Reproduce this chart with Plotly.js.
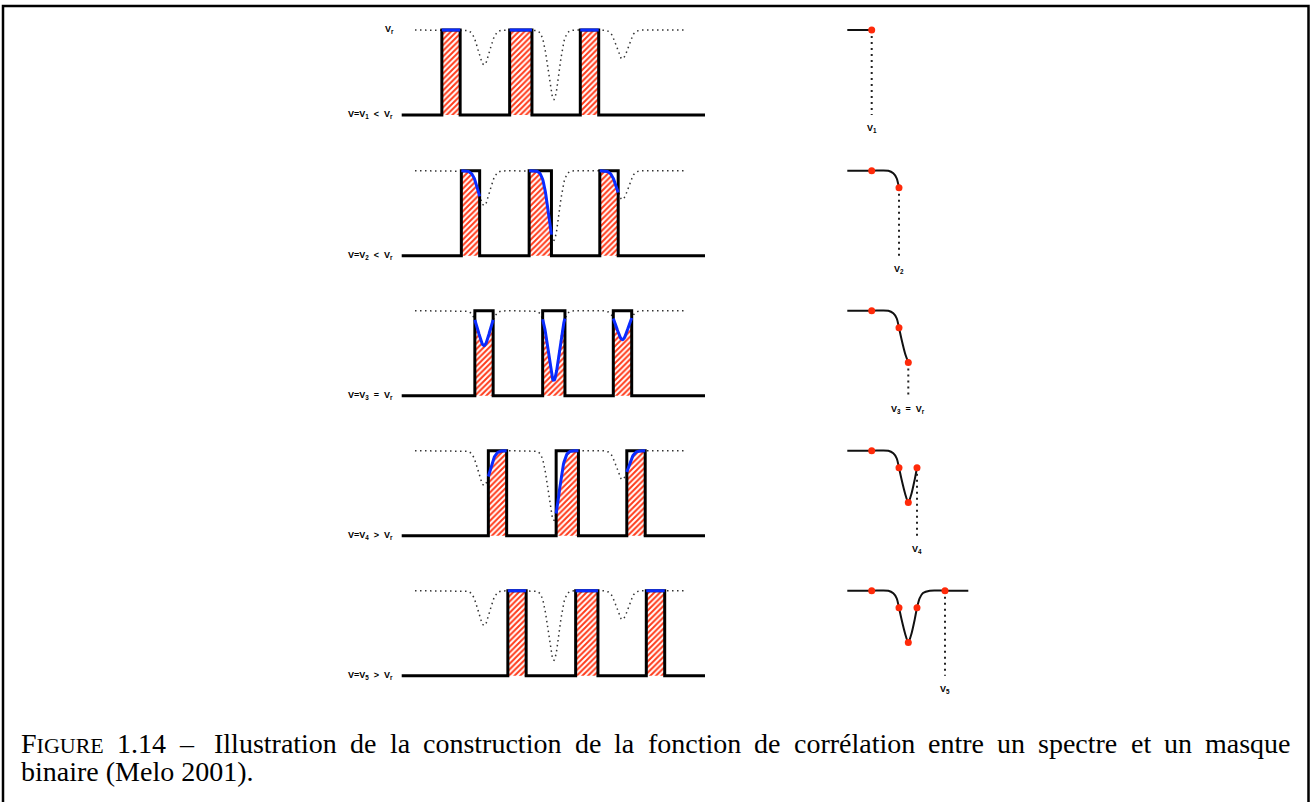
<!DOCTYPE html>
<html><head><meta charset="utf-8">
<script src="https://cdn.plot.ly/plotly-3.0.1.min.js"></script>
<style>html,body{margin:0;padding:0;background:#fff}</style>
</head><body><div id="chart" style="width:1310px;height:802px"></div>
<script>
// ---- Spectrum: absorption lines (wavelength in arbitrary units, depth = fraction of continuum) ----
const lineCenters = [82.3, 152.0, 220.7];
const lineDepths  = [0.41, 0.82, 0.34];
const lineSigmas  = [5.6, 5.4, 5.6];
const spectrumRange = [13.3, 285.3];
const baselineRange = [0, 303.3];

// ---- Binary mask (windows at rest) ----
const maskCenters = [82.3, 152.1, 220.8];
const maskWidths  = [18.3, 22.3, 18.4];

// ---- Trial velocities: mask shift for each row ----
const maskShifts = [-33, -13.5, 0, 13.5, 33];
const rowLabels = [
  "V=V<sub>1</sub>\u00a0\u00a0&lt;\u00a0\u00a0V<sub>r</sub>",
  "V=V<sub>2</sub>\u00a0\u00a0&lt;\u00a0\u00a0V<sub>r</sub>",
  "V=V<sub>3</sub>\u00a0\u00a0=\u00a0\u00a0V<sub>r</sub>",
  "V=V<sub>4</sub>\u00a0\u00a0&gt;\u00a0\u00a0V<sub>r</sub>",
  "V=V<sub>5</sub>\u00a0\u00a0&gt;\u00a0\u00a0V<sub>r</sub>"
];
const topLabel = "V<sub>r</sub>";

// ---- Correlation function ----
const ccfVel = [-36.6, -9.3, 0, 8.7, 36.7];
const ccfVal = [1.0, 0.80, 0.39, 0.80, 1.0];
const ccfLabels = ["V<sub>1</sub>", "V<sub>2</sub>", "V<sub>3</sub>\u00a0\u00a0=\u00a0\u00a0V<sub>r</sub>", "V<sub>4</sub>", "V<sub>5</sub>"];
const ccfCurveX = [-61, -36.6, -20, -15, -11.6, -9.3, -6.6, -3.3, 0, 3.3, 6.4, 8.7, 11.3, 14.7, 21.5, 36.7, 60];
const ccfCurveY = [1, 1, 1, 0.969, 0.91, 0.80, 0.655, 0.50, 0.39, 0.50, 0.66, 0.80, 0.91, 0.972, 1, 1, 1];

// ---- Caption ----
const captionLine1 = ["FIGURE", "1.14", "\u2013", "Illustration", "de", "la", "construction", "de", "la", "fonction", "de", "corrélation", "entre", "un", "spectre", "et", "un", "masque"];
const captionLine2 = "binaire (Melo 2001).";

// ================= build =================
const W = 1310, H = 802;
const rowTop = [30, 170.7, 310.7, 450.7, 590.7];
const rowH = 85, yPad = 0.15;
const sfx = k => (k === 0 ? '' : String(k + 1));

function flux(x) {
  let f = 1;
  for (let i = 0; i < lineCenters.length; i++) {
    f -= lineDepths[i] * Math.exp(-((x - lineCenters[i]) ** 2) / (2 * lineSigmas[i] ** 2));
  }
  return f;
}
const specX = [], specY = [];
for (let x = spectrumRange[0]; x <= spectrumRange[1] + 1e-9; x += 0.5) { specX.push(x); specY.push(flux(x)); }

const layout = {
  width: W, height: H, margin: {l: 0, r: 0, t: 0, b: 0}, showlegend: false,
  paper_bgcolor: '#fff', plot_bgcolor: 'rgba(0,0,0,0)', annotations: [], shapes: [],
  hovermode: false
};
const traces = [];
const lblFont = {family: 'Liberation Sans, Arial, sans-serif', size: 9, color: '#000'};

for (let k = 0; k < 5; k++) {
  const top = rowTop[k] - yPad * rowH, bot = rowTop[k] + rowH + yPad * rowH;
  const xa = 'x' + sfx(k), ya = 'y' + sfx(k), xr = 'x' + (k + 6);
  layout['yaxis' + sfx(k)] = {domain: [1 - bot / H, 1 - top / H], range: [-yPad, 1 + yPad], visible: false, anchor: xa, fixedrange: true};
  layout['xaxis' + sfx(k)] = {domain: [391.7 / W, 715 / W], range: [-10, 313.3], visible: false, anchor: ya, fixedrange: true};
  layout['xaxis' + (k + 6)] = {domain: [838.3 / W, 978.3 / W], range: [-70, 70], visible: false, anchor: ya, fixedrange: true};

  // dotted spectrum
  traces.push({type: 'scatter', mode: 'lines', x: specX, y: specY, xaxis: xa, yaxis: ya,
    line: {color: '#333', width: 1.5, dash: '1.5px,3.5px'}});

  const edges = maskCenters.map((c, i) => [c + maskShifts[k] - maskWidths[i] / 2, c + maskShifts[k] + maskWidths[i] / 2]);
  const blue = [];
  edges.forEach(([l, r]) => {
    const wx = [], wy = [];
    for (let j = 0; j <= 40; j++) { const x = l + (r - l) * j / 40; wx.push(x); wy.push(flux(x)); }
    traces.push({type: 'scatter', mode: 'lines', x: wx, y: wy, xaxis: xa, yaxis: ya, fill: 'tozeroy',
      line: {width: 0}, fillcolor: '#fff',
      fillpattern: {shape: '/', fgcolor: '#ff3a1a', bgcolor: '#ffffff', size: 4, solidity: 0.5}});
    blue.push({type: 'scatter', mode: 'lines', x: wx, y: wy, xaxis: xa, yaxis: ya, line: {color: '#0a2bff', width: 3}});
  });
  // mask outline
  const mx = [baselineRange[0]], my = [0];
  edges.forEach(([l, r]) => { mx.push(l, l, r, r); my.push(0, 1, 1, 0); });
  mx.push(baselineRange[1]); my.push(0);
  traces.push({type: 'scatter', mode: 'lines', x: mx, y: my, xaxis: xa, yaxis: ya, line: {color: '#000', width: 3}});
  blue.forEach(t => traces.push(t));

  layout.annotations.push({xref: xa, yref: ya, x: baselineRange[0], y: 0, xanchor: 'right', yanchor: 'middle', xshift: -7,
    text: '<b>' + rowLabels[k] + '</b>', showarrow: false, font: lblFont});
  if (k === 0) layout.annotations.push({xref: xa, yref: ya, x: baselineRange[0], y: 1, xanchor: 'right', yanchor: 'middle', xshift: -6,
    text: '<b>' + topLabel + '</b>', showarrow: false, font: lblFont});

  // correlation function
  const cx = [], cy = [];
  for (let i = 0; i < ccfCurveX.length; i++) {
    if (k === 4 || ccfCurveX[i] <= ccfVel[k] + 1e-9) { cx.push(ccfCurveX[i]); cy.push(ccfCurveY[i]); }
  }
  traces.push({type: 'scatter', mode: 'lines', x: cx, y: cy, xaxis: xr, yaxis: ya,
    line: {color: '#111', width: 2, shape: 'spline', smoothing: 0.7}});
  traces.push({type: 'scatter', mode: 'lines', x: [ccfVel[k], ccfVel[k]], y: [ccfVal[k], 0], xaxis: xr, yaxis: ya,
    line: {color: '#222', width: 2, dash: '2px,4px'}});
  traces.push({type: 'scatter', mode: 'markers', x: ccfVel.slice(0, k + 1), y: ccfVal.slice(0, k + 1), xaxis: xr, yaxis: ya,
    marker: {color: '#ff2a0a', size: 7}});
  layout.annotations.push({xref: xr, yref: ya, x: ccfVel[k], y: 0, xanchor: 'center', yanchor: 'top', yshift: -6,
    text: '<b>' + ccfLabels[k] + '</b>', showarrow: false, font: lblFont});
}

// frame
layout.shapes.push({type: 'rect', xref: 'paper', yref: 'paper', x0: 3 / W, x1: 1308.5 / W, y0: -0.02, y1: 1 - 6 / H,
  line: {color: '#000', width: 2.5}, fillcolor: 'rgba(0,0,0,0)'});

// caption (justified first line)
const capSize = 28, scSize = 22, capFamily = 'Liberation Serif';
const ctx = document.createElement('canvas').getContext('2d');
function tw(s, size) { ctx.font = size + 'px "' + capFamily + '"'; return ctx.measureText(s).width; }
const tokText = captionLine1.map((t, i) => i === 0 ? 'F<span style="font-size:' + scSize + 'px">IGURE</span>' : t);
const tokW = captionLine1.map((t, i) => i === 0 ? tw('F', capSize) + tw('IGURE', scSize) : tw(t, capSize));
const gapWeights = captionLine1.map((t, i) => (i === 0 ? 0 : (i === 3 ? 1.6 : 1)));
const totalW = tokW.reduce((a, b) => a + b, 0);
const totalGW = gapWeights.reduce((a, b) => a + b, 0);
const gapUnit = (1290 - 20 - totalW) / totalGW;
let cxp = 20;
const capFont = {family: capFamily + ', Times New Roman, serif', size: capSize, color: '#000'};
tokText.forEach((t, i) => {
  cxp += gapWeights[i] * gapUnit;
  layout.annotations.push({xref: 'paper', yref: 'paper', x: cxp / W, y: 1 - 743 / H, xanchor: 'left', yanchor: 'middle',
    text: t, showarrow: false, font: capFont, borderpad: 0});
  cxp += tokW[i];
});
layout.annotations.push({xref: 'paper', yref: 'paper', x: 20 / W, y: 1 - 771 / H, xanchor: 'left', yanchor: 'middle',
  text: captionLine2, showarrow: false, font: capFont, borderpad: 0});

Plotly.newPlot('chart', traces, layout, {displayModeBar: false});
</script>
</body></html>
